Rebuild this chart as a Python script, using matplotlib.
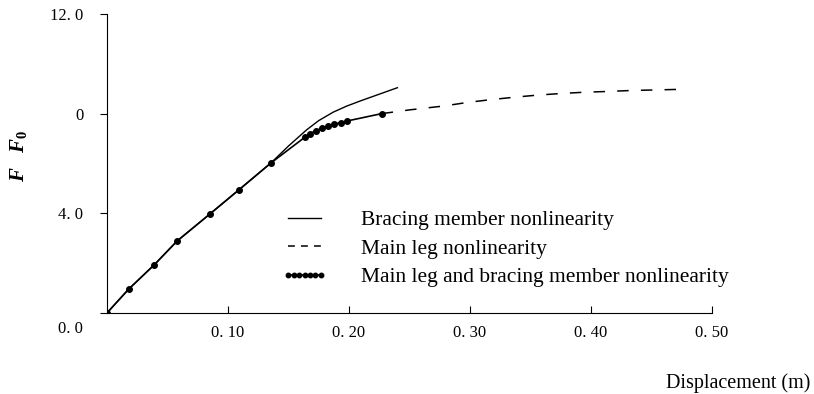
import matplotlib
matplotlib.use('Agg')
import matplotlib.pyplot as plt
from matplotlib.transforms import ScaledTranslation

plt.rcParams['font.family'] = ['Liberation Serif', 'DejaVu Serif']
plt.rcParams['mathtext.fontset'] = 'custom'
plt.rcParams['mathtext.it'] = 'Liberation Serif:italic:bold'
plt.rcParams['mathtext.rm'] = 'Liberation Serif:bold'

# bracing member nonlinearity (solid)
brace_x = [0.0, 0.018, 0.039, 0.058, 0.085, 0.109, 0.1355, 0.150, 0.165, 0.175,
           0.187, 0.198, 0.210, 0.225, 0.240]
brace_y = [0.0, 0.96, 1.93, 2.89, 3.97, 4.94, 6.02, 6.7, 7.35, 7.72,
           8.06, 8.3, 8.52, 8.78, 9.04]

# main leg nonlinearity (dashed, visible part)
leg_x = [0.227, 0.25, 0.279, 0.298, 0.317, 0.337, 0.355, 0.376, 0.395, 0.414,
         0.434, 0.453, 0.478]
leg_y = [8.0, 8.15, 8.31, 8.45, 8.56, 8.66, 8.74, 8.81, 8.86, 8.89,
         8.93, 8.95, 8.98]

# main leg and bracing member nonlinearity (dotted)
both_x = [0.0, 0.018, 0.039, 0.058, 0.085, 0.109, 0.1355, 0.164, 0.168, 0.173,
          0.178, 0.183, 0.188, 0.193, 0.198, 0.227]
both_y = [0.0, 0.96, 1.93, 2.89, 3.97, 4.94, 6.02, 7.07, 7.2, 7.32,
          7.42, 7.51, 7.58, 7.64, 7.7, 8.0]

xticks = [0.10, 0.20, 0.30, 0.40, 0.50]
xtick_labels = ['0. 10', '0. 20', '0. 30', '0. 40', '0. 50']
yticks = [0, 4, 8, 12]
ytick_labels = ['0. 0', '4. 0', '0', '12. 0']

fig = plt.figure(figsize=(8.14, 3.94), dpi=100)
ax = fig.add_axes([0.1314, 0.2056, 0.7433, 0.759])

l1, = ax.plot(brace_x, brace_y, color='black', lw=1.0)
l2, = ax.plot(leg_x, leg_y, color='black', lw=1.1, dashes=(7.5, 8))
l3, = ax.plot(both_x, both_y, color='black', lw=1.2, marker='o', markersize=4)

ax.set_xlim(0, 0.5)
ax.set_ylim(0, 12)
ax.spines['top'].set_visible(False)
ax.spines['right'].set_visible(False)
ax.set_xticks(xticks)
ax.set_xticklabels(xtick_labels)
ax.set_yticks(yticks)
ax.set_yticklabels(ytick_labels)
ax.tick_params(axis='x', direction='in', length=5, pad=9, labelsize=12, color='black')
ax.tick_params(axis='y', direction='out', length=5, pad=12, labelsize=12, color='black')

# 0.0 label sits a bit below the axis in the original
lbl = ax.get_yticklabels()[0]
lbl.set_transform(lbl.get_transform() + ScaledTranslation(0, -0.14, fig.dpi_scale_trans))

fig.text(0.023, 0.605, r'$F$   $F_0$', rotation=90, fontsize=15,
         ha='center', va='center')
fig.text(0.995, 0.028, 'Displacement (m)', fontsize=14.5, ha='right', va='center')

leg = ax.legend([l1, l2, l3],
                ['Bracing member nonlinearity', 'Main leg nonlinearity',
                 'Main leg and bracing member nonlinearity'],
                loc='upper left', bbox_to_anchor=(282 / 814, 1 - 210 / 394),
                bbox_transform=fig.transFigure, frameon=False, fontsize=15.5,
                handlelength=2.1, handletextpad=1.55, labelspacing=0.4,
                borderpad=0, borderaxespad=0, numpoints=7)
leg.get_lines()[1].set_dashes((4.5, 4))
leg.get_lines()[2].set_markersize(3.2)

fig.savefig('out.png', dpi=100)
